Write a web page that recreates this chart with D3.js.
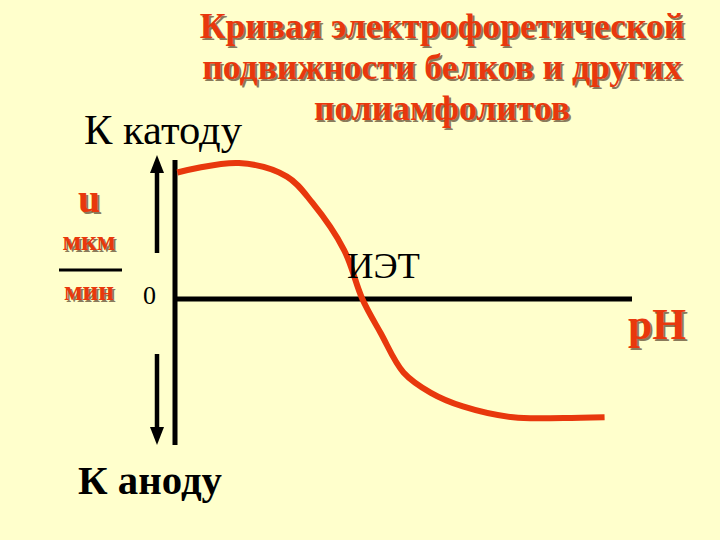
<!DOCTYPE html>
<html>
<head>
<meta charset="utf-8">
<script src="https://cdn.jsdelivr.net/npm/d3@7"></script>
</head>
<body style="margin:0;background:#ffffcc">
<div id="chart"></div>
<script>
// title lines
var titleLines = ["Кривая электрофоретической", "подвижности белков и других", "полиамфолитов"];

// curve points: pH (arbitrary units) and mobility (relative)
var phValues = [0.05, 1.4, 2.45, 3.0, 3.7, 4.1, 4.5, 5.0, 5.6, 6.3, 7.4, 8.5, 9.4];
var mobility = [0.93, 1.0, 0.90, 0.71, 0.36, 0.0, -0.25, -0.54, -0.69, -0.79, -0.87, -0.875, -0.87];

var w = 720;
var h = 540;

var box = d3.select("#chart")
    .style("position", "relative")
    .style("width", w + "px")
    .style("height", h + "px");

var svg = box.append("svg")
    .attr("width", w)
    .attr("height", h)
    .style("position", "absolute")
    .style("left", "0px")
    .style("top", "0px");

var x = d3.scaleLinear().domain([0, 10]).range([175, 632]);
var y = d3.scaleLinear().domain([-1, 1]).range([435, 163]);

var red = "#e8380d";
var shadow = "2px 2px 0px #8a7a5a";

// text as html on top of the svg; (lx, ly) is the baseline point
function addText(txt, lx, ly, base, weight, target, center) {
    var t = box.append("div")
        .style("position", "absolute")
        .style("white-space", "nowrap")
        .style("font-family", "'Liberation Serif', 'Times New Roman', serif")
        .style("font-weight", weight)
        .style("font-size", base + "px")
        .style("line-height", base + "px")
        .style("left", lx + "px")
        .style("top", (ly - 0.84 * base) + "px")
        .text(txt);
    var size = base;
    if (target) {
        var k = target / t.node().getBoundingClientRect().width;
        k = Math.max(0.85, Math.min(1.25, k));
        size = base * k;
        t.style("font-size", size + "px")
            .style("line-height", size + "px")
            .style("top", (ly - 0.84 * size) + "px");
    }
    if (center) {
        t.style("left", (lx - t.node().getBoundingClientRect().width / 2) + "px");
    }
    t.datum(size);
    return t;
}

// axes
svg.append("line")
    .attr("x1", x(0)).attr("x2", x(0))
    .attr("y1", 160).attr("y2", 445)
    .attr("stroke", "#000").attr("stroke-width", 5);
svg.append("line")
    .attr("x1", x(0)).attr("x2", x(10))
    .attr("y1", y(0)).attr("y2", y(0))
    .attr("stroke", "#000").attr("stroke-width", 5);

// direction arrows (shaft + head)
svg.append("line")
    .attr("x1", 157).attr("x2", 157)
    .attr("y1", 253).attr("y2", 170)
    .attr("stroke", "#000").attr("stroke-width", 4.5);
svg.append("path")
    .attr("d", "M157,155 L150,173 L164,173 Z")
    .attr("fill", "#000");
svg.append("line")
    .attr("x1", 157).attr("x2", 157)
    .attr("y1", 354).attr("y2", 430)
    .attr("stroke", "#000").attr("stroke-width", 4.5);
svg.append("path")
    .attr("d", "M157,445 L150,427 L164,427 Z")
    .attr("fill", "#000");

// the curve
var pts = phValues.map(function (d, i) { return [d, mobility[i]]; });
var line = d3.line()
    .x(function (d) { return x(d[0]); })
    .y(function (d) { return y(d[1]); })
    .curve(d3.curveCatmullRom);
svg.append("path")
    .attr("d", line(pts))
    .attr("fill", "none")
    .attr("stroke", red)
    .attr("stroke-width", 6);

// fraction bar under "мкм"
svg.append("line")
    .attr("x1", 59).attr("x2", 122)
    .attr("y1", 270).attr("y2", 270)
    .attr("stroke", "#000").attr("stroke-width", 3);

// title: size taken from the first line
var first = addText(titleLines[0], 442, 39, 33, "bold", 485, true)
    .style("color", red).style("text-shadow", shadow);
var titleSize = first.datum();
titleLines.slice(1).forEach(function (t, i) {
    addText(t, 442, 80 + i * 41, titleSize, "bold", null, true)
        .style("color", red)
        .style("text-shadow", shadow);
});

// labels
addText("К катоду", 84, 145, 38, "normal", 158, false);
addText("К аноду", 78, 495, 38, "bold", 144, false);
addText("ИЭТ", 347, 279, 36, "normal", 73, false);
addText("0", 143, 305, 26, "normal", null, false);

addText("u", 89, 213, 40, "bold", null, true)
    .style("color", red).style("text-shadow", shadow);
var unitTop = addText("мкм", 89, 251, 22, "bold", 53, true)
    .style("color", red).style("text-shadow", shadow);
addText("мин", 89, 301, unitTop.datum(), "bold", null, true)
    .style("color", red).style("text-shadow", shadow);
addText("pH", 657, 340, 42, "bold", 58, true)
    .style("color", red).style("text-shadow", shadow);
</script>
</body>
</html>
